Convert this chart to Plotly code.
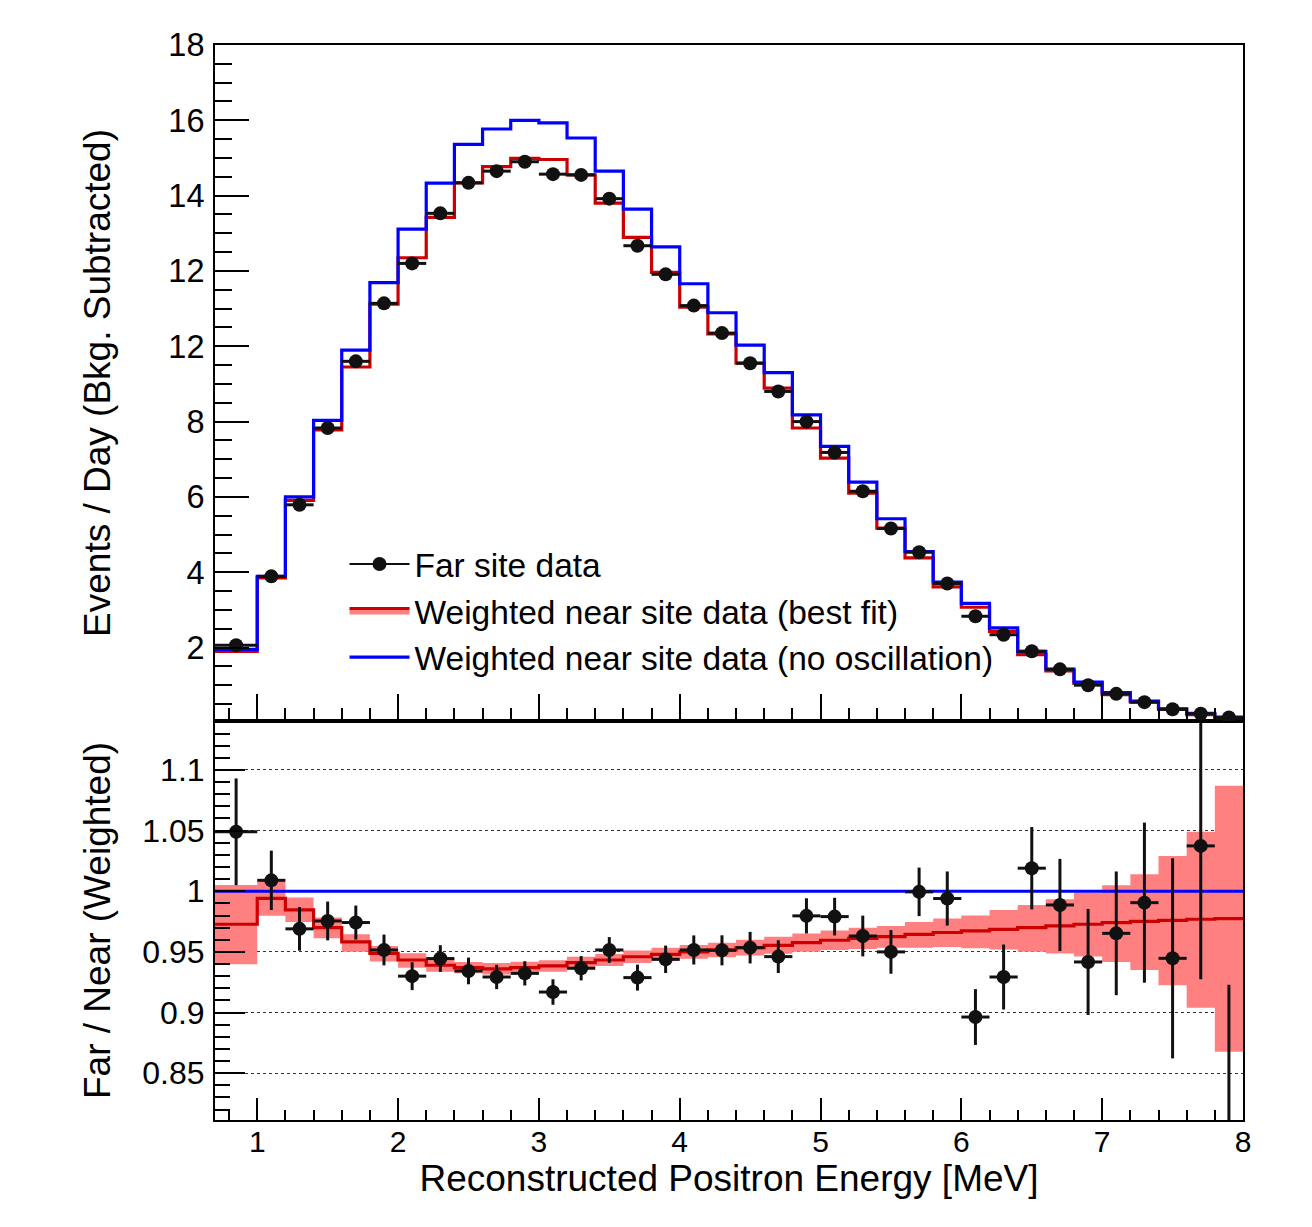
import plotly.graph_objects as go

# ---------------- data ----------------
bin_edges = [0.7, 1.0, 1.2, 1.4, 1.6, 1.8, 2.0, 2.2, 2.4, 2.6, 2.8, 3.0, 3.2, 3.4,
             3.6, 3.8, 4.0, 4.2, 4.4, 4.6, 4.8, 5.0, 5.2, 5.4, 5.6, 5.8, 6.0, 6.2,
             6.4, 6.6, 6.8, 7.0, 7.2, 7.4, 7.6, 7.8, 8.0]

# Events / day, far site data
far_rate = [2.06, 3.89, 5.79, 7.83, 9.60, 11.14, 12.20, 13.53, 14.34, 14.65, 14.90,
            14.57, 14.55, 13.92, 12.67, 11.91, 11.08, 10.35, 9.55, 8.80, 8.00, 7.18,
            6.15, 5.16, 4.53, 3.70, 2.83, 2.34, 1.90, 1.42, 1.00, 0.77, 0.55, 0.36,
            0.24, 0.14]
# Weighted near site data (best fit)
best_fit_rate = [1.90, 3.85, 5.91, 7.78, 9.45, 11.12, 12.35, 13.42, 14.34, 14.77, 14.99,
                 14.96, 14.55, 13.80, 12.89, 11.96, 11.04, 10.33, 9.55, 8.89, 7.83, 7.03,
                 6.10, 5.17, 4.38, 3.61, 3.07, 2.43, 1.81, 1.38, 1.05, 0.75, 0.55, 0.36,
                 0.22, 0.14]
# Weighted near site data (no oscillation)
no_osc_rate = [1.95, 3.89, 6.00, 8.03, 9.90, 11.69, 13.11, 14.33, 15.36, 15.77, 16.00,
               15.93, 15.53, 14.65, 13.64, 12.64, 11.66, 10.89, 10.03, 9.30, 8.18, 7.34,
               6.39, 5.42, 4.55, 3.74, 3.17, 2.52, 1.90, 1.43, 1.08, 0.80, 0.58, 0.37,
               0.25, 0.15]

# Far / Near (weighted) ratio
ratio_far = [1.049, 1.009, 0.969, 0.9755, 0.9742, 0.9516, 0.930, 0.9445, 0.9343, 0.9293,
             0.9323, 0.9169, 0.9365, 0.9516, 0.9288, 0.9439, 0.9516, 0.9513, 0.9535,
             0.9461, 0.9797, 0.9791, 0.9631, 0.950, 0.9995, 0.994, 0.8963, 0.9293,
             1.019, 0.9887, 0.9417, 0.9653, 0.9906, 0.9447, 1.0374, 0.76]
ratio_far_err = [0.044, 0.0245, 0.018, 0.016, 0.014, 0.0127, 0.0115, 0.011, 0.011, 0.010,
                 0.010, 0.0105, 0.010, 0.0106, 0.0107, 0.0113, 0.012, 0.0124, 0.013,
                 0.0135, 0.0145, 0.0155, 0.0168, 0.018, 0.020, 0.0223, 0.023, 0.0268,
                 0.034, 0.038, 0.0437, 0.051, 0.066, 0.0825, 0.11, 0.163]
ratio_best = [0.9728, 0.9942, 0.9846, 0.970, 0.9582, 0.9488, 0.9433, 0.939, 0.937, 0.936,
              0.937, 0.9384, 0.9411, 0.9433, 0.946, 0.948, 0.950, 0.9516, 0.9535, 0.9554,
              0.9577, 0.9596, 0.9612, 0.9626, 0.9645, 0.966, 0.9673, 0.9686, 0.970,
              0.9714, 0.9728, 0.9742, 0.9752, 0.976, 0.9769, 0.9775]
ratio_band_hi = [1.0052, 1.008, 0.9948, 0.9783, 0.9645, 0.9549, 0.9488, 0.9439, 0.9417,
                 0.9409, 0.9418, 0.9432, 0.9459, 0.9483, 0.9512, 0.9535, 0.9557, 0.9576,
                 0.9600, 0.9624, 0.9652, 0.9676, 0.9700, 0.9714, 0.9747, 0.9775, 0.980,
                 0.9846, 0.9887, 0.9934, 0.9989, 1.005, 1.014, 1.029, 1.049, 1.087]
ratio_band_lo = [0.9398, 0.9797, 0.9747, 0.9612, 0.9502, 0.942, 0.937, 0.9337, 0.9323,
                 0.9313, 0.9322, 0.9336, 0.9363, 0.9383, 0.9408, 0.9425, 0.9443, 0.9456,
                 0.9470, 0.9484, 0.9502, 0.9516, 0.9524, 0.9535, 0.9535, 0.954, 0.953,
                 0.952, 0.9502, 0.9486, 0.9461, 0.9417, 0.9351, 0.9224, 0.904, 0.8677]

# tick labels (as printed on the reference)
rate_tick_vals = [2, 4, 6, 8, 10, 12, 14, 16, 18]
rate_tick_text = ["2", "4", "6", "8", "12", "12", "14", "16", "18"]
ratio_tick_vals = [0.85, 0.9, 0.95, 1.0, 1.05, 1.1]
ratio_tick_text = ["0.85", "0.9", "0.95", "1", "1.05", "1.1"]
energy_tick_vals = [1, 2, 3, 4, 5, 6, 7, 8]
energy_tick_text = ["1", "2", "3", "4", "5", "6", "7", "8"]

legend_names = ["Far site data",
                "Weighted near site data (best fit)",
                "Weighted near site data (no oscillation)"]

# ---------------- derived helpers ----------------
centers = [(a + b) / 2 for a, b in zip(bin_edges[:-1], bin_edges[1:])]
half_w = [(b - a) / 2 for a, b in zip(bin_edges[:-1], bin_edges[1:])]
ratio_no_osc = [v / v for v in no_osc_rate]


def step_y(vals):
    return list(vals) + [vals[-1]]


FONT = "Liberation Sans, Arial, Helvetica, sans-serif"
RED = "#cc0000"
PINK = "#ff8080"
BLUE = "#0000ff"
BLACK = "#111111"

fig = go.Figure()

# ---------- top panel ----------
fig.add_trace(go.Scatter(x=bin_edges, y=step_y(best_fit_rate), mode="lines",
                         line=dict(color=RED, width=3.2, shape="hv"),
                         xaxis="x2", yaxis="y2", showlegend=False, hoverinfo="skip"))
fig.add_trace(go.Scatter(x=bin_edges, y=step_y(no_osc_rate), mode="lines",
                         line=dict(color=BLUE, width=3.2, shape="hv"),
                         name=legend_names[2], legendrank=3,
                         xaxis="x2", yaxis="y2", showlegend=True))
fig.add_trace(go.Scatter(x=centers, y=far_rate, mode="markers",
                         marker=dict(color=BLACK, size=14),
                         error_x=dict(type="data", array=half_w, symmetric=True,
                                      thickness=3, width=0, color=BLACK),
                         xaxis="x2", yaxis="y2", showlegend=False))

# legend-only entries
fig.add_trace(go.Scatter(x=[None], y=[None], mode="lines+markers",
                         line=dict(color=BLACK, width=2),
                         marker=dict(color=BLACK, size=14),
                         name=legend_names[0], legendrank=1,
                         xaxis="x2", yaxis="y2"))
fig.add_trace(go.Scatter(x=[None], y=[None], mode="lines", fill="toself",
                         fillcolor=PINK, line=dict(color=RED, width=3),
                         name=legend_names[1], legendrank=2,
                         xaxis="x2", yaxis="y2"))

# ---------- bottom (ratio) panel ----------
fig.add_trace(go.Scatter(x=bin_edges, y=step_y(ratio_band_lo), mode="lines",
                         line=dict(color="rgba(0,0,0,0)", width=0, shape="hv"),
                         xaxis="x", yaxis="y", showlegend=False, hoverinfo="skip"))
fig.add_trace(go.Scatter(x=bin_edges, y=step_y(ratio_band_hi), mode="lines",
                         line=dict(color="rgba(0,0,0,0)", width=0, shape="hv"),
                         fill="tonexty", fillcolor=PINK,
                         xaxis="x", yaxis="y", showlegend=False, hoverinfo="skip"))
fig.add_trace(go.Scatter(x=bin_edges, y=step_y(ratio_best), mode="lines",
                         line=dict(color=RED, width=3.2, shape="hv"),
                         xaxis="x", yaxis="y", showlegend=False))
fig.add_trace(go.Scatter(x=bin_edges, y=step_y(ratio_no_osc), mode="lines",
                         line=dict(color=BLUE, width=3.2, shape="hv"),
                         xaxis="x", yaxis="y", showlegend=False))
fig.add_trace(go.Scatter(x=centers, y=ratio_far, mode="markers",
                         marker=dict(color=BLACK, size=14),
                         error_x=dict(type="data", array=half_w, symmetric=True,
                                      thickness=3, width=0, color=BLACK),
                         error_y=dict(type="data", array=ratio_far_err, symmetric=True,
                                      thickness=3, width=0, color=BLACK),
                         xaxis="x", yaxis="y", showlegend=False))

SPLIT = 0.3712

axis_common = dict(showline=True, linecolor="black", linewidth=2, mirror=True,
                   ticks="inside", tickcolor="black", tickwidth=1.5,
                   zeroline=False, showgrid=False)

fig.update_layout(
    width=1312, height=1227,
    margin=dict(l=215, r=69, t=45, b=107),
    paper_bgcolor="white", plot_bgcolor="white",
    font=dict(family=FONT, color="black", size=30),
    xaxis=dict(axis_common, domain=[0, 1], anchor="y", range=[0.7, 8.0],
               tickvals=energy_tick_vals, ticktext=energy_tick_text,
               ticklen=22, tickfont=dict(size=30), ticklabelstandoff=-6,
               minor=dict(ticks="inside", tick0=0, dtick=0.2, ticklen=10,
                          tickcolor="black", tickwidth=1.5),
               title=dict(text="Reconstructed Positron Energy [MeV]",
                          font=dict(size=37), standoff=4)),
    xaxis2=dict(axis_common, domain=[0, 1], anchor="y2", range=[0.7, 8.0],
                matches="x", tickvals=energy_tick_vals, showticklabels=False,
                ticklen=27,
                minor=dict(ticks="inside", tick0=0, dtick=0.2, ticklen=13,
                           tickcolor="black", tickwidth=1.5)),
    yaxis=dict(axis_common, domain=[0, SPLIT], anchor="x", range=[0.8114, 1.1404],
               tickvals=ratio_tick_vals, ticktext=ratio_tick_text,
               ticklen=30, tickfont=dict(size=32), ticklabelstandoff=2,
               showgrid=True, gridcolor="#333333", gridwidth=1, griddash="dot",
               minor=dict(ticks="inside", tick0=0, dtick=0.01, ticklen=15,
                          tickcolor="black", tickwidth=1.5, showgrid=False),
               title=dict(text="Far / Near (Weighted)", font=dict(size=37),
                          standoff=20)),
    yaxis2=dict(axis_common, domain=[SPLIT, 1], anchor="x2", range=[0.05, 18.0],
                tickvals=rate_tick_vals, ticktext=rate_tick_text,
                ticklen=34, tickfont=dict(size=32.5), ticklabelstandoff=2,
                minor=dict(ticks="inside", tick0=0, dtick=0.5, ticklen=17,
                           tickcolor="black", tickwidth=1.5),
                title=dict(text="Events / Day (Bkg. Subtracted)", font=dict(size=37),
                           standoff=46)),
    showlegend=True,
    legend=dict(x=0.126, y=0.5435, xanchor="left", yanchor="top",
                bgcolor="rgba(0,0,0,0)", borderwidth=0,
                font=dict(family=FONT, size=33.5, color="black"),
                traceorder="normal", itemwidth=60),
)

fig.write_html("out.html")
